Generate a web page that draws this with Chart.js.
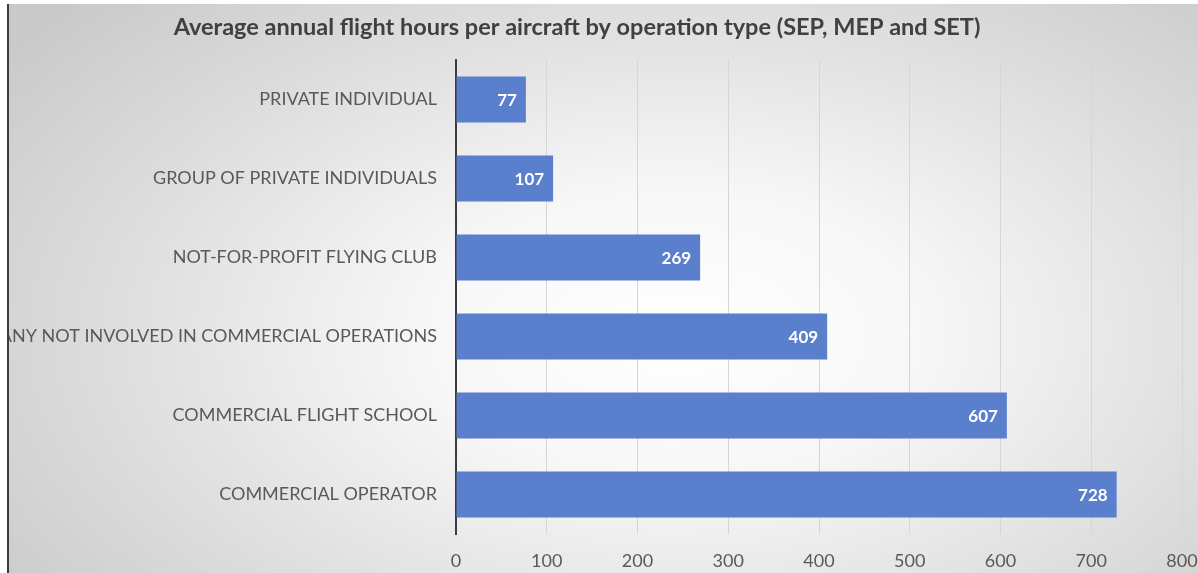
<!DOCTYPE html>
<html>
<head>
<meta charset="utf-8">
<script src="https://cdn.jsdelivr.net/npm/chart.js@4/dist/chart.umd.min.js"></script>
<style>
  html, body { margin: 0; padding: 0; background: #fff; overflow: hidden; }
  #panel {
    position: absolute; left: 7px; top: 4px;
    width: 1189px; height: 569px;
    border-left: 2px solid #3c3c3c;
    background: radial-gradient(ellipse 70% 85% at 56% 58%, #ffffff 0%, #f7f7f7 30%, #dcdcdc 70%, #c9c9c9 100%);
  }
  canvas { display: block; }
</style>
</head>
<body>
<div id="panel"><canvas id="hoursChart" width="1189" height="569"></canvas></div>
<script>
// operation types, top to bottom
const categories = [
    'PRIVATE INDIVIDUAL',
    'GROUP OF PRIVATE INDIVIDUALS',
    'NOT-FOR-PROFIT FLYING CLUB',
    'COMPANY NOT INVOLVED IN COMMERCIAL OPERATIONS',
    'COMMERCIAL FLIGHT SCHOOL',
    'COMMERCIAL OPERATOR'
];
// average annual flight hours per aircraft
const hours = [77, 107, 269, 409, 607, 728];
const xTicks = [0, 100, 200, 300, 400, 500, 600, 700, 800];
const chartTitle = 'Average annual flight hours per aircraft by operation type (SEP, MEP and SET)';

const fontFamily = 'Lato, "Open Sans", sans-serif';

// title sits a bit left of the canvas centre, over the whole chart block
const titleText = {
    id: 'titleText',
    afterDraw(chart) {
        const ctx = chart.ctx;
        ctx.save();
        ctx.fillStyle = '#404040';
        ctx.font = 'bold 23.5px ' + fontFamily;
        ctx.textAlign = 'center';
        ctx.textBaseline = 'middle';
        ctx.fillText(chartTitle, 568, 23);
        ctx.restore();
    }
};

// white value labels at the inner end of each bar
const barValues = {
    id: 'barValues',
    afterDatasetsDraw(chart) {
        const ctx = chart.ctx;
        const meta = chart.getDatasetMeta(0);
        ctx.save();
        ctx.fillStyle = '#ffffff';
        ctx.font = 'bold 17px ' + fontFamily;
        ctx.textAlign = 'right';
        ctx.textBaseline = 'middle';
        meta.data.forEach((bar, i) => {
            ctx.fillText(String(hours[i]), bar.x - 9, bar.y + 1);
        });
        ctx.restore();
    }
};

const ctx = document.getElementById('hoursChart').getContext('2d');
new Chart(ctx, {
    type: 'bar',
    data: {
        labels: categories,
        datasets: [{
            data: hours,
            backgroundColor: '#5a7fcd',
            borderWidth: 0,
            categoryPercentage: 1,
            barPercentage: 0.58
        }]
    },
    options: {
        indexAxis: 'y',
        responsive: false,
        animation: false,
        layout: { padding: { top: 56, right: 16, bottom: 0, left: 0 } },
        plugins: {
            legend: { display: false },
            tooltip: { enabled: false },
            title: { display: false }
        },
        scales: {
            x: {
                min: 0,
                max: 800,
                afterBuildTicks(scale) {
                    scale.ticks = xTicks.map(v => ({ value: v }));
                },
                afterFit(scale) {
                    scale.height = 39;
                    scale.paddingLeft = 0;
                    scale.paddingRight = 0;
                },
                grid: { color: '#d6d6d6', lineWidth: 1, drawTicks: false },
                border: { display: false },
                ticks: {
                    color: '#595959',
                    padding: 16,
                    font: { family: fontFamily, size: 18 }
                }
            },
            y: {
                afterFit(scale) { scale.width = 447; },
                grid: { display: false, drawTicks: false },
                border: { color: '#3c3c3c', width: 2 },
                ticks: {
                    color: '#595959',
                    padding: 19,
                    autoSkip: false,
                    font: { family: fontFamily, size: 18 }
                }
            }
        }
    },
    plugins: [barValues, titleText]
});
</script>
</body>
</html>
